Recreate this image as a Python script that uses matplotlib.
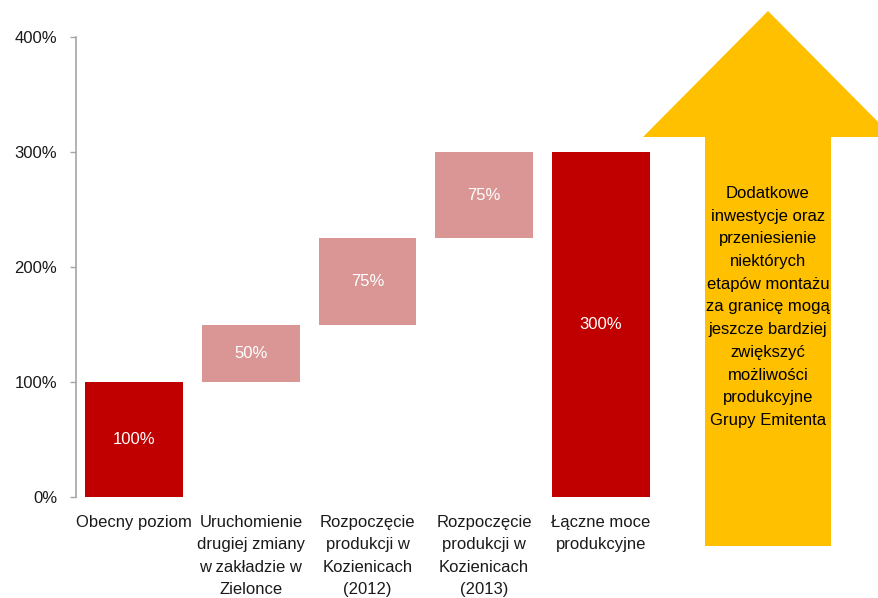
import numpy as np
import matplotlib.pyplot as plt
from matplotlib.patches import Polygon

plt.rcParams['font.family'] = ['Liberation Sans', 'DejaVu Sans']

# waterfall data
categories = ['Obecny poziom',
              'Uruchomienie\ndrugiej zmiany\nw zakładzie w\nZielonce',
              'Rozpoczęcie\nprodukcji w\nKozienicach\n(2012)',
              'Rozpoczęcie\nprodukcji w\nKozienicach\n(2013)',
              'Łączne moce\nprodukcyjne']
values = [100, 50, 75, 75, 300]
is_total = [True, False, False, False, True]
yticks = [0, 100, 200, 300, 400]
arrow_text = ('Dodatkowe\ninwestycje oraz\nprzeniesienie\nniektórych\netapów montażu\n'
              'za granicę mogą\njeszcze bardziej\nzwiększyć\nmożliwości\nprodukcyjne\nGrupy Emitenta')

dark_red = '#C00000'
pink = '#D99694'
yellow = '#FFC000'

# bottoms for the floating bars
bottoms = []
running = 0
for v, tot in zip(values, is_total):
    if tot:
        bottoms.append(0)
        running = v
    else:
        bottoms.append(running)
        running += v
colors = [dark_red if t else pink for t in is_total]

fig = plt.figure(figsize=(8.79, 5.98), dpi=100)
ax = fig.add_axes([76/879, 1-497/598, (659-76)/879, (497-37)/598])

x = np.arange(len(categories))
ax.bar(x, values, bottom=bottoms, width=0.84, color=colors)
for xi, v, b in zip(x, values, bottoms):
    ax.text(xi, b + v/2, f'{v}%', ha='center', va='center', color='white', fontsize=12)

ax.set_xlim(-0.5, 4.5)
ax.set_ylim(0, 400)
ax.set_yticks(yticks)
ax.set_yticklabels([f'{t}%' for t in yticks], fontsize=12, color='#1a1a1a')
ax.set_xticks(x)
ax.set_xticklabels(categories, fontsize=12, color='#1a1a1a', linespacing=1.62, va='top')
ax.tick_params(axis='x', length=0, pad=13)
ax.tick_params(axis='y', length=4.5, width=1, color='#A6A6A6', pad=9)
for s in ['top', 'right', 'bottom']:
    ax.spines[s].set_visible(False)
ax.spines['left'].set_color('#A6A6A6')
ax.spines['left'].set_linewidth(1.2)

# big yellow arrow on the right (figure pixel coords)
ov = fig.add_axes([0, 0, 1, 1])
ov.set_xlim(0, 879)
ov.set_ylim(598, 0)
ov.axis('off')
cx = 768
pts = [(cx, 11), (cx + 125, 137), (cx + 63, 137), (cx + 63, 546),
       (cx - 63, 546), (cx - 63, 137), (cx - 125, 137)]
ov.add_patch(Polygon(pts, closed=True, facecolor=yellow, edgecolor='none'))
ov.text(cx, 307, arrow_text, ha='center', va='center', fontsize=12, color='black', linespacing=1.64)

fig.savefig('out.png', dpi=100)
